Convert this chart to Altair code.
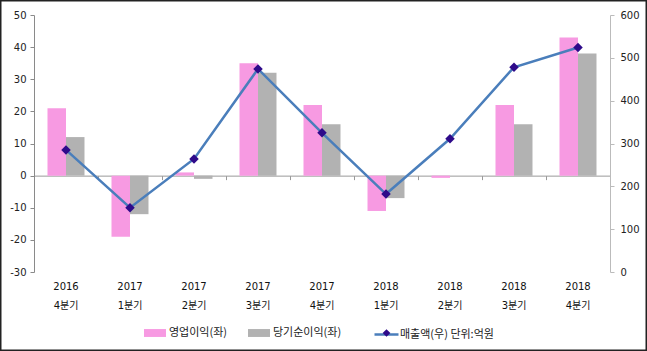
import altair as alt
import pandas as pd

categories = ["2016 4분기", "2017 1분기", "2017 2분기", "2017 3분기", "2017 4분기",
              "2018 1분기", "2018 2분기", "2018 3분기", "2018 4분기"]
operating_profit = [21, -19, 1, 35, 22, -11, -0.7, 22, 43]
net_income = [12, -12, -1, 32, 16, -7, 0, 16, 38]
sales = [285, 150, 264, 474, 325, 182, 311, 478, 524]
bar_series = ["영업이익(좌)", "당기순이익(좌)"]
line_series = ["매출액(우)  단위:억원"]
marker_series = ["매출액 마커"]
left_ticks = [-30, -20, -10, 0, 10, 20, 30, 40, 50]
right_ticks = [0, 100, 200, 300, 400, 500, 600]

bars_df = pd.DataFrame({
    "cat": categories * 2,
    "series": [bar_series[0]] * len(categories) + [bar_series[1]] * len(categories),
    "value": operating_profit + net_income,
})
line_df = pd.DataFrame({"cat": categories, "series": line_series * len(categories),
                        "marker": marker_series * len(categories), "sales": sales})

NUM_FONT = "DejaVu Sans"
KR_FONT = "Noto Sans CJK KR"

x_scale = alt.Scale(domain=categories, paddingInner=0, paddingOuter=0)

bars = alt.Chart(bars_df).mark_bar().encode(
    x=alt.X("cat:N", scale=x_scale, sort=categories, title=None,
            axis=alt.Axis(orient="bottom", labelExpr="split(datum.value, ' ')", labelAngle=0,
                          domain=False, ticks=False, labelPadding=14, labelLineHeight=19,
                          labelFontSize=10, labelFont="DejaVu Sans, Noto Sans CJK KR",
                          labelColor="#111", labelBaseline="middle")),
    xOffset=alt.XOffset("series:N", sort=bar_series,
                        scale=alt.Scale(domain=bar_series, paddingOuter=0.73, paddingInner=0)),
    y=alt.Y("value:Q", scale=alt.Scale(domain=[-30, 50], nice=False, zero=False), title=None,
            axis=alt.Axis(values=left_ticks, grid=False, domainColor="#8a8a8a", tickColor="#8a8a8a",
                          tickSize=4, labelPadding=4, labelFont=NUM_FONT, labelFontSize=10,
                          labelColor="#222", labelExpr="datum.value + ''")),
    color=alt.Color("series:N", sort=bar_series,
                    scale=alt.Scale(domain=bar_series, range=["#F79AE2", "#B2B2B2"]),
                    legend=alt.Legend(title=None, orient="none", direction="horizontal",
                                      legendX=110, legendY=307, padding=0,
                                      symbolType="M-1,-0.36H1V0.36H-1Z", symbolSize=484,
                                      symbolStrokeWidth=0, labelFont=KR_FONT, labelFontSize=11,
                                      labelColor="#222", labelOffset=3, columnPadding=20)),
)

line = alt.Chart(line_df).mark_line(strokeWidth=2.5).encode(
    x=alt.X("cat:N", scale=x_scale, sort=categories, title=None,
            axis=alt.Axis(orient="bottom", offset=-96.375, labels=False, domain=True, ticks=True,
                          bandPosition=0, domainColor="#999999", tickColor="#999999",
                          tickSize=4, grid=False)),
    y=alt.Y("sales:Q", scale=alt.Scale(domain=[0, 600], nice=False), title=None,
            axis=alt.Axis(orient="right", values=right_ticks, grid=False, domainColor="#bbbbbb",
                          tickColor="#bbbbbb", tickSize=4, labelPadding=6, labelFont=NUM_FONT,
                          labelFontSize=10, labelColor="#222")),
    stroke=alt.Stroke("series:N", scale=alt.Scale(domain=line_series, range=["#4A7EBB"]),
                      legend=alt.Legend(title=None, orient="none", legendX=339, legendY=306,
                                        padding=0, symbolType="stroke", symbolSize=576,
                                        symbolStrokeWidth=2.5, labelFont=KR_FONT,
                                        labelFontSize=11, labelColor="#222", labelOffset=0)),
)

points = alt.Chart(line_df).mark_point(shape="diamond", filled=True, size=90, opacity=1).encode(
    x=alt.X("cat:N", scale=x_scale, sort=categories, axis=None),
    y=alt.Y("sales:Q", scale=alt.Scale(domain=[0, 600], nice=False), axis=None),
    fill=alt.Fill("marker:N", scale=alt.Scale(domain=marker_series, range=["#2E0A8A"]),
                  legend=alt.Legend(title=None, orient="none", legendX=347, legendY=312.5,
                                    padding=0, symbolType="diamond", symbolSize=60,
                                    labelFont=KR_FONT, labelFontSize=11,
                                    labelExpr="''", labelOffset=0)),
)

frame = alt.Chart(pd.DataFrame({"f": [0]})).mark_rect(
    fill="transparent", stroke="#222222", strokeWidth=1.5
).encode(x=alt.value(-33.25), x2=alt.value(612.25), y=alt.value(-14.25), y2=alt.value(335.25))

chart = alt.layer(
    bars, line, points, frame,
).resolve_scale(y="independent").resolve_axis(x="independent").properties(
    width=576, height=257,
    autosize=alt.AutoSizeParams(type="none"),
    padding={"left": 34, "top": 15, "right": 37, "bottom": 79},
).configure_view(stroke=None)

chart.save("out.html", embed_options={"renderer": "svg", "actions": False})
